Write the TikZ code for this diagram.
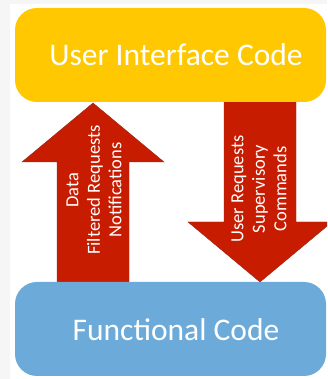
\documentclass[tikz,border=0pt]{standalone}
\usepackage{fontspec}
\setmainfont{Carlito}
\definecolor{uiyellow}{RGB}{255,200,0}
\definecolor{fnblue}{RGB}{107,170,217}
\definecolor{flowred}{RGB}{200,28,0}
\definecolor{flowedge}{RGB}{150,40,20}
\definecolor{pagegray}{RGB}{246,246,246}
\tikzset{
  x=1pt, y=1pt,
  codebox/.style={rounded corners=22pt},
  boxlabel/.style={text=white, font=\fontsize{31.5}{36}\selectfont, anchor=center},
  flowarrow/.style={fill=flowred, draw=flowedge, line width=0.4pt, line join=miter},
  flowlabel/.style={text=white, rotate=90, align=center, font=\fontsize{18.5}{21.5}\selectfont}
}
\begin{document}
\begin{tikzpicture}
  % page and canvas
  \useasboundingbox (0,0) rectangle (327,379);
  \clip (0,0) rectangle (327,379);
  \fill[pagegray] (0,0) rectangle (327,379);
  \fill[white] (10,0) rectangle (327,375);

  % upward flow: functional code -> user interface code
  \draw[flowarrow] (57,97) -- (57,217) -- (22,217) -- (93,276) -- (164,217) -- (129,217) -- (129,97) -- cycle;
  % downward flow: user interface code -> functional code
  \draw[flowarrow] (224,277) -- (296,277) -- (296,157) -- (332,157) -- (260,97) -- (188,157) -- (224,157) -- cycle;

  % the two code layers
  \fill[uiyellow, codebox] (15,277) rectangle (326,371);
  \node[boxlabel] (ui) at (176,324) {User Interface Code};
  \fill[fnblue, codebox] (15,3) rectangle (326,97);
  \node[boxlabel] (fn) at (176,49) {Functional Code};

  % arrow captions
  \node[flowlabel] (up) at (94,189) {Data\\Filtered Requests\\Notifications};
  \node[flowlabel] (down) at (259,190) {User Requests\\Supervisory\\Commands};
\end{tikzpicture}
\end{document}
